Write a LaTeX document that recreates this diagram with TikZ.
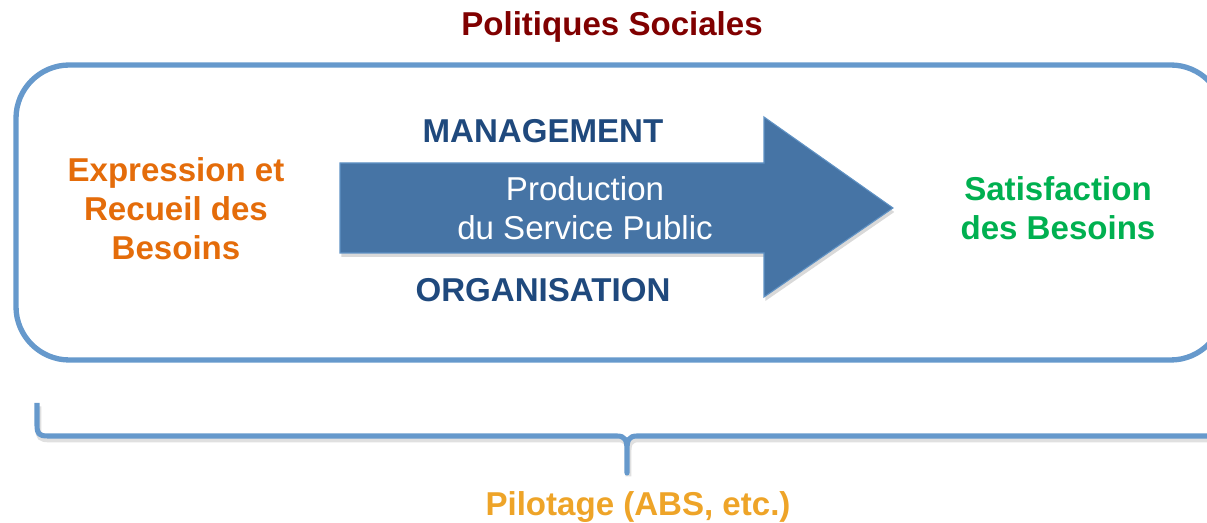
\documentclass[tikz,border=0pt]{standalone}
\usepackage{fontspec}
\setmainfont{Liberation Sans}
\usetikzlibrary{shadows}
\definecolor{framblue}{RGB}{102,153,204}
\definecolor{arrowblue}{RGB}{70,116,165}
\definecolor{navytext}{RGB}{31,73,125}
\definecolor{darkred}{RGB}{128,0,0}
\definecolor{besoinorange}{RGB}{228,108,10}
\definecolor{besoingreen}{RGB}{0,176,80}
\definecolor{pilotgold}{RGB}{238,164,40}
\tikzset{
    bigtext/.style={inner sep=0pt, align=center, font=\fontsize{24.8}{29.5}\selectfont},
    boldtext/.style={bigtext, font=\fontsize{24.8}{29.5}\selectfont\bfseries},
    frameline/.style={draw=framblue, line width=4pt},
}
\begin{document}
\begin{tikzpicture}[x=0.75pt,y=-0.75pt]
        \useasboundingbox (0,0) rectangle (1207,523);
        %% frame
        \draw[frameline, rounded corners=40pt] (16,65) rectangle (1224,360);
        %% arrow
        \begin{scope}
            \fill[arrowblue, draw=framblue!80!arrowblue, line width=0.8pt,
                drop shadow={shadow xshift=1pt, shadow yshift=-3pt, opacity=0.3}]
                (340,163) -- (764,163) -- (764,117) -- (893,208)
                -- (764,297) -- (764,253) -- (340,253) -- cycle;
        \end{scope}
        %% texts (base = last line)
        \node[boldtext, text=darkred, anchor=base] (titre) at (612,36) {Politiques Sociales};
        \node[boldtext, text=navytext, anchor=base] (mgmt) at (543,143) {MANAGEMENT};
        \node[boldtext, text=navytext, anchor=base] (orga) at (543,302) {ORGANISATION};
        \node[bigtext, text=white, anchor=base] (prod) at (585,240) {Production\\du Service Public};
        \node[boldtext, text=besoinorange, anchor=base] (expr) at (176,260) {Expression et\\Recueil des\\Besoins};
        \node[boldtext, text=besoingreen, anchor=base] (satis) at (1058,240) {Satisfaction\\des Besoins};
        \node[boldtext, text=pilotgold, anchor=base] (pilot) at (638,516) {Pilotage (ABS, etc.)};
        %% brace
        \draw[frameline, line width=3.8pt, line join=round,
            preaction={draw=black, opacity=0.12, line width=4.5pt,
                transform canvas={shift={(1pt,-2.5pt)}}}]
            (37,403) -- (37,425) .. controls (37,434) and (39,436) .. (48,436)
            -- (617,436) .. controls (625,436) and (627,440) .. (627,450)
            -- (627,473) -- (627,450) .. controls (627,440) and (629,436) .. (637,436)
            -- (1215,436);
    \end{tikzpicture}
\end{document}
